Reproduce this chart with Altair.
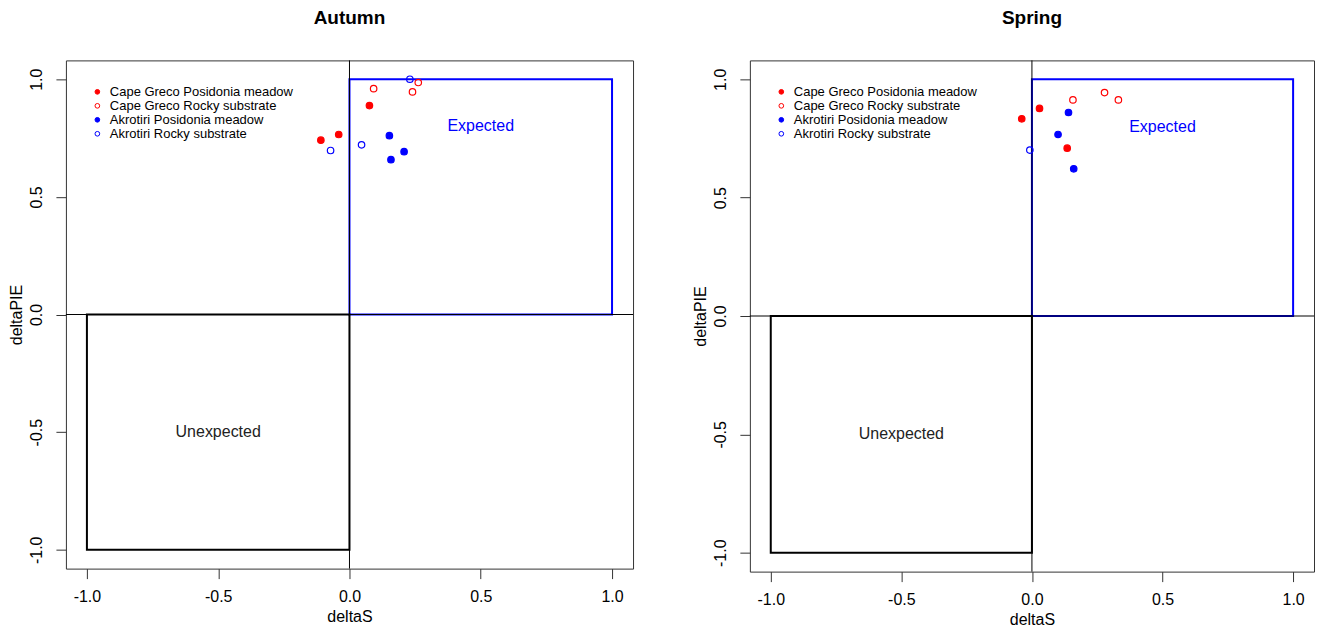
import altair as alt
import pandas as pd

FONT = "Liberation Sans"

# ---- data ----
series_names = ["Cape Greco Posidonia meadow", "Cape Greco Rocky substrate",
                "Akrotiri Posidonia meadow", "Akrotiri Rocky substrate"]
series_stroke = ["#FF0000", "#FF0000", "#0000FF", "#0000FF"]
series_fill = ["#FF0000", "transparent", "#0000FF", "transparent"]

autumn_series = [series_names[0]] * 3 + [series_names[1]] * 3 + [series_names[2]] * 3 + [series_names[3]] * 3
autumn_dS = [-0.109, -0.041, 0.076, 0.092, 0.262, 0.240, 0.152, 0.208, 0.158, 0.230, -0.072, 0.046]
autumn_dPIE = [0.741, 0.765, 0.888, 0.960, 0.986, 0.946, 0.760, 0.692, 0.658, 1.000, 0.697, 0.721]

spring_series = [series_names[0]] * 3 + [series_names[1]] * 3 + [series_names[2]] * 3 + [series_names[3]] * 1
spring_dS = [-0.039, 0.029, 0.135, 0.157, 0.278, 0.331, 0.140, 0.100, 0.160, -0.008]
spring_dPIE = [0.833, 0.877, 0.709, 0.913, 0.944, 0.913, 0.860, 0.767, 0.622, 0.701]

box_names = ["Expected", "Unexpected"]
box_x1 = [0, -1]
box_x2 = [1, 0]
box_y1 = [0, -1]
box_y2 = [1, 0]
box_colors = ["#0000FF", "#000000"]
text_colors = ["#0000FF", "#222222"]
label_x = [0.5, -0.5]
label_y = [0.8, -0.5]

tick_values = [-1.0, -0.5, 0.0, 0.5, 1.0]
axis_range = [-1.08, 1.08]

LABEL_EXPR = "replace(format(datum.value, '.1f'), '\u2212', '-')"


def x_enc(field):
    return alt.X(field, type="quantitative",
                 scale=alt.Scale(domain=axis_range, nice=False, zero=False),
                 axis=alt.Axis(title="deltaS", values=tick_values, labelExpr=LABEL_EXPR,
                               grid=False, domain=False, tickSize=10, tickColor="#333333",
                               labelPadding=10, labelFontSize=16, labelFont=FONT,
                               labelColor="#000000", titleFontSize=16, titleFont=FONT,
                               titleFontWeight="normal", titleColor="#000000",
                               titlePadding=4, minExtent=36, maxExtent=36))


def y_enc(field):
    return alt.Y(field, type="quantitative",
                 scale=alt.Scale(domain=axis_range, nice=False, zero=False),
                 axis=alt.Axis(title="deltaPIE", values=tick_values, labelExpr=LABEL_EXPR,
                               grid=False, domain=False, tickSize=10, tickColor="#333333",
                               labelPadding=11, labelFontSize=16, labelFont=FONT,
                               labelAngle=270, labelColor="#000000",
                               titleFontSize=16, titleFont=FONT, titleFontWeight="normal",
                               titleColor="#000000", titlePadding=4,
                               minExtent=37, maxExtent=37))


def legend():
    return alt.Legend(orient="none", legendX=25, legendY=25, title=None, padding=0,
                      labelFontSize=13, labelFont=FONT, labelColor="#000000",
                      labelLimit=400, symbolSize=22, symbolStrokeWidth=1,
                      rowPadding=0, labelOffset=6, symbolType="circle")


def panel(title, series, dS, dPIE, w, h):
    pts = pd.DataFrame({"series": series, "dS": dS, "dPIE": dPIE})
    zero = pd.DataFrame({"v": [0.0]})
    layers = []
    for i in range(len(box_names)):
        bdf = pd.DataFrame({"x1": [box_x1[i]], "x2": [box_x2[i]],
                            "y1": [box_y1[i]], "y2": [box_y2[i]]})
        layers.append(
            alt.Chart(bdf).mark_rect(fill="transparent", stroke=box_colors[i], strokeWidth=2)
            .encode(x=x_enc("x1"), x2="x2", y=y_enc("y1"), y2="y2")
        )
    layers.append(alt.Chart(zero).mark_rule(color="#000000", strokeWidth=1).encode(x=x_enc("v")))
    layers.append(alt.Chart(zero).mark_rule(color="#000000", strokeWidth=1).encode(y=y_enc("v")))
    for i in range(len(box_names)):
        tdf = pd.DataFrame({"lx": [label_x[i]], "ly": [label_y[i]], "t": [box_names[i]]})
        layers.append(
            alt.Chart(tdf).mark_text(fontSize=16, font=FONT, color=text_colors[i])
            .encode(x=x_enc("lx"), y=y_enc("ly"), text="t:N")
        )
    layers.append(
        alt.Chart(pts).mark_point(shape="circle", size=42, strokeWidth=1.2, opacity=1)
        .encode(
            x=x_enc("dS"), y=y_enc("dPIE"),
            stroke=alt.Stroke("series:N", scale=alt.Scale(domain=series_names, range=series_stroke),
                              legend=legend()),
            fill=alt.Fill("series:N", scale=alt.Scale(domain=series_names, range=series_fill),
                          legend=legend()),
        )
    )
    return alt.layer(*layers).properties(
        width=w, height=h,
        title=alt.TitleParams(title, fontSize=19, fontWeight="bold", font=FONT,
                              color="#000000", anchor="middle", offset=32),
    )


autumn = panel("Autumn", autumn_series, autumn_dS, autumn_dPIE, 568, 509)
spring = panel("Spring", spring_series, spring_dS, spring_dPIE, 565, 512)

chart = (
    alt.hconcat(autumn, spring, spacing=58)
    .resolve_scale(fill="independent", stroke="independent")
    .resolve_legend(fill="independent", stroke="independent")
    .properties(padding=0)
    .configure_view(stroke="#333333", strokeWidth=1)
)

chart.save("out.html", embed_options={"renderer": "svg", "actions": False})
